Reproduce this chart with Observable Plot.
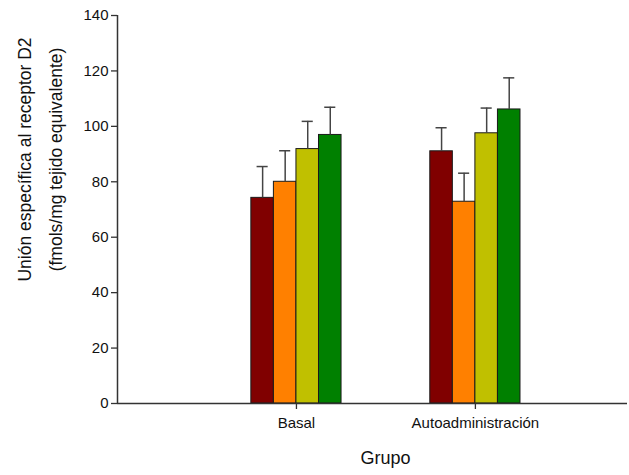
<!DOCTYPE html>
<html>
<head>
<meta charset="utf-8">
<script src="https://cdn.jsdelivr.net/npm/d3@7"></script>
<script src="https://cdn.jsdelivr.net/npm/@observablehq/plot@0.6"></script>
<style>
  html, body { margin: 0; padding: 0; background: #fff; }
</style>
</head>
<body>
<div id="chart"></div>
<script>
const groups = ["Basal", "Autoadministración"];
const series = ["Serie 1", "Serie 2", "Serie 3", "Serie 4"];
const colors = ["#800000", "#FF8000", "#C0C000", "#008000"];
const basalMeans = [74.2, 80.0, 91.8, 96.9];
const basalErrors = [11.3, 11.2, 10.0, 10.0];
const autoMeans = [91.0, 72.8, 97.5, 106.1];
const autoErrors = [8.5, 10.3, 9.1, 11.4];
const yTicks = [0, 20, 40, 60, 80, 100, 120, 140];
const yLabel = "Unión específica al receptor D2\n(fmols/mg tejido equivalente)";
const xLabel = "Grupo";

const barWidth = 0.126;
const meansByGroup = [basalMeans, autoMeans];
const errorsByGroup = [basalErrors, autoErrors];
const data = [];
groups.forEach((g, gi) => {
  series.forEach((s, si) => {
    const start = (gi + 1) - barWidth * series.length / 2 + si * barWidth;
    data.push({
      group: g, series: s,
      x1: start, x2: start + barWidth, xc: start + barWidth / 2,
      value: meansByGroup[gi][si],
      top: meansByGroup[gi][si] + errorsByGroup[gi][si]
    });
  });
});

const axisColor = "#333";
const chart = Plot.plot({
  width: 629,
  height: 475,
  marginLeft: 117,
  marginRight: 2,
  marginTop: 15,
  marginBottom: 72,
  style: { fontFamily: "'Liberation Sans', Arial, sans-serif", background: "#fff", color: "#111" },
  x: { domain: [0, 2.85] },
  y: { domain: [0, 140] },
  color: { domain: series, range: colors },
  marks: [
    Plot.rect(data, { x1: "x1", x2: "x2", y1: 0, y2: "value", fill: "series", stroke: "#1a1a1a", strokeWidth: 1 }),
    Plot.ruleX(data, { x: "xc", y1: "value", y2: "top", stroke: "#444", strokeWidth: 1.5 }),
    Plot.ruleY(data, { x1: d => d.xc - 0.031, x2: d => d.xc + 0.031, y: "top", stroke: "#444", strokeWidth: 1.5 }),
    Plot.ruleX([0], { stroke: axisColor, strokeWidth: 1.5 }),
    Plot.ruleY([0], { stroke: axisColor, strokeWidth: 1.5 }),
    Plot.axisY({ ticks: yTicks, tickSize: 6, tickPadding: 3, fontSize: 15, label: null, stroke: axisColor, strokeWidth: 1.3 }),
    Plot.axisX({ ticks: [1, 2], tickFormat: d => groups[d - 1], tickSize: 6, tickPadding: 8, fontSize: 15, label: null, stroke: axisColor, strokeWidth: 1.3 }),
    Plot.text([xLabel], { frameAnchor: "bottom", dx: 13, dy: 55, lineAnchor: "middle", fontSize: 18, fill: "#111" }),
    Plot.text([yLabel], { frameAnchor: "left", rotate: -90, dx: -81, dy: -50, lineAnchor: "middle", textAnchor: "middle", lineHeight: 1.75, fontSize: 17.5, fill: "#111" })
  ]
});
document.getElementById("chart").appendChild(chart);
</script>
</body>
</html>
